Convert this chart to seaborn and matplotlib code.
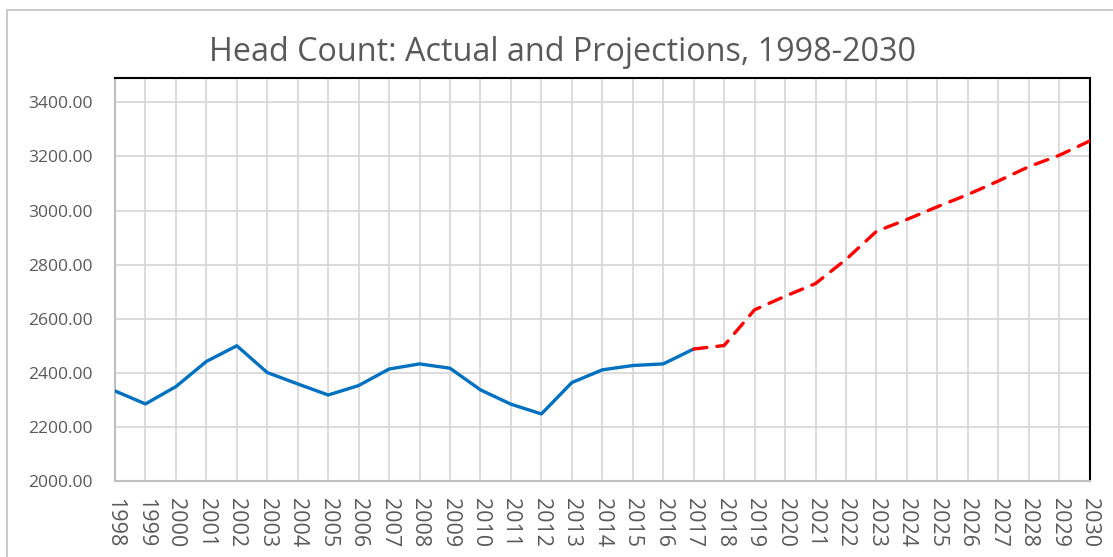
import numpy as np
import pandas as pd
import matplotlib.pyplot as plt
import seaborn as sns
from matplotlib.patches import Rectangle

actual_years = list(range(1998, 2018))
actual_values = [2333, 2285, 2349, 2442, 2500, 2401, 2359, 2318, 2353, 2414,
                 2433, 2417, 2337, 2284, 2248, 2364, 2411, 2427, 2433, 2488]

proj_years = list(range(2017, 2031))
proj_values = [2488, 2501, 2633, 2683, 2730, 2819, 2923, 2967, 3014, 3059,
               3109, 3162, 3204, 3257]

y_ticks = [2000, 2200, 2400, 2600, 2800, 3000, 3200, 3400]
x_ticks = list(range(1998, 2031))

actual = pd.DataFrame({"year": actual_years, "count": actual_values})
proj = pd.DataFrame({"year": proj_years, "count": proj_values})

sns.set_style("white")
plt.rcParams['font.family'] = ['Open Sans', 'DejaVu Sans']

fig = plt.figure(figsize=(11.13, 5.57), dpi=100)
ax = fig.add_axes([0.1033, 0.1364, 0.8757, 0.7236])

sns.lineplot(data=actual, x="year", y="count", ax=ax, color="#0070C0",
             linewidth=2.4, zorder=3)
sns.lineplot(data=proj, x="year", y="count", ax=ax, color="#FF0000",
             linewidth=2.4, linestyle=(0, (4, 3)), zorder=3,
             dash_capstyle="round")

ax.set_xlim(1998, 2030)
ax.set_ylim(2000, 3490)
ax.set_xticks(x_ticks)
ax.set_yticks(y_ticks)
ax.set_xticklabels([str(y) for y in x_ticks], rotation=-90, fontsize=15.5,
                   color="#595959")
ax.set_yticklabels([f"{v:.2f}" for v in y_ticks], fontsize=12.6,
                   color="#595959")
ax.tick_params(axis="x", length=0, pad=12)
ax.tick_params(axis="y", length=0, pad=16)
ax.set_xlabel("")
ax.set_ylabel("")

ax.grid(True, color="#d9d9d9", linewidth=1.3)
ax.set_axisbelow(True)

for side in ["left", "bottom"]:
    ax.spines[side].set_color("#bfbfbf")
    ax.spines[side].set_linewidth(1.5)
for side in ["top", "right"]:
    ax.spines[side].set_color("black")
    ax.spines[side].set_linewidth(1.5)

fig.text(0.505, 0.905, "Head Count: Actual and Projections, 1998-2030",
         ha="center", va="center", fontsize=23.3, color="#595959")

fig.patches.append(Rectangle((7 / 1113, -0.05), 1.2, 1 - 10 / 557 + 0.05,
                             transform=fig.transFigure, fill=False,
                             edgecolor="#bfbfbf", linewidth=1.2))

fig.savefig("out.png", dpi=100)
